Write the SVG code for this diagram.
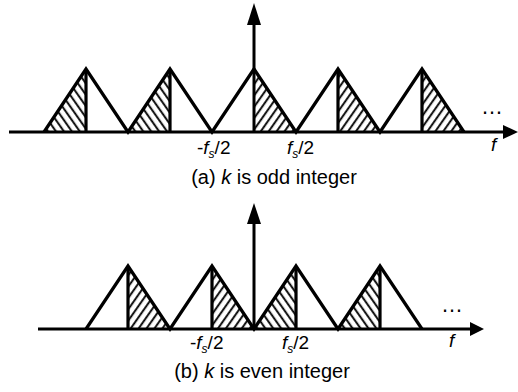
<svg xmlns="http://www.w3.org/2000/svg" width="518" height="392" viewBox="0 0 518 392">
<style>
.ax{stroke:#000;stroke-width:3;fill:none}
.tri{stroke:#000;stroke-width:3.2;fill:none;stroke-linejoin:miter}
.hd{fill:#000}
.t{font-family:"Liberation Sans",Arial,sans-serif;font-size:19px;fill:#000}
.cap{font-size:20px}
.dots{font-size:22px}
.i{font-style:italic}
.sub{font-size:12px;font-style:italic}
</style>
<defs>
<pattern id="hf" patternUnits="userSpaceOnUse" width="6.5" height="10" patternTransform="rotate(35)">
<line x1="3" y1="-2" x2="3" y2="12" stroke="#000" stroke-width="1.9"/>
</pattern>
<pattern id="hb" patternUnits="userSpaceOnUse" width="6.5" height="10" patternTransform="rotate(-35)">
<line x1="3" y1="-2" x2="3" y2="12" stroke="#000" stroke-width="1.9"/>
</pattern>
</defs>
<rect width="518" height="392" fill="#fff"/>

<g id="panelA">
<g id="hatchA">
<polygon points="44,132 86,69 86,132" fill="url(#hb)"/>
<polygon points="128,132 170,69 170,132" fill="url(#hb)"/>
<polygon points="254,69 296,132 254,132" fill="url(#hf)"/>
<polygon points="338,69 380,132 338,132" fill="url(#hf)"/>
<polygon points="422,69 464,132 422,132" fill="url(#hf)"/>
</g>
<g id="trianglesA" class="tri">
<polyline points="44,132 86,69 128,132 170,69 212,132 254,69 296,132 338,69 380,132 422,69 464,132"/>
<line x1="86" y1="69" x2="86" y2="132"/>
<line x1="170" y1="69" x2="170" y2="132"/>
<line x1="338" y1="69" x2="338" y2="132"/>
<line x1="422" y1="69" x2="422" y2="132"/>
</g>
<g id="axesA">
<line class="ax" x1="9" y1="132" x2="505" y2="132"/>
<polygon class="hd" points="503,125 518,132 503,139"/>
<line class="ax" x1="254" y1="132" x2="254" y2="22"/>
<polygon class="hd" points="247,25 254,3 261,25"/>
</g>
<text class="t" x="197" y="154">-<tspan class="i">f</tspan><tspan class="sub" dy="4">s</tspan><tspan dy="-4">/2</tspan></text>
<text class="t" x="287" y="154"><tspan class="i">f</tspan><tspan class="sub" dy="4">s</tspan><tspan dy="-4">/2</tspan></text>
<text class="t i" x="491" y="151">f</text>
<text class="t dots" x="481" y="114">…</text>
<text class="t cap" x="274" y="184" text-anchor="middle">(a) <tspan class="i">k</tspan> is odd integer</text>
</g>

<g id="panelB">
<g id="hatchB">
<polygon points="128,266 170,329 128,329" fill="url(#hf)"/>
<polygon points="212,266 254,329 212,329" fill="url(#hf)"/>
<polygon points="254,329 296,266 296,329" fill="url(#hb)"/>
<polygon points="338,329 380,266 380,329" fill="url(#hb)"/>
</g>
<g id="trianglesB" class="tri">
<polyline points="86,329 128,266 170,329 212,266 254,329 296,266 338,329 380,266 422,329"/>
<line x1="128" y1="266" x2="128" y2="329"/>
<line x1="212" y1="266" x2="212" y2="329"/>
<line x1="296" y1="266" x2="296" y2="329"/>
<line x1="380" y1="266" x2="380" y2="329"/>
</g>
<g id="axesB">
<line class="ax" x1="38" y1="329" x2="472" y2="329"/>
<polygon class="hd" points="470,322 484,329 470,336"/>
<line class="ax" x1="254" y1="329" x2="254" y2="221"/>
<polygon class="hd" points="247,224 254,203 261,224"/>
</g>
<text class="t" x="190" y="349">-<tspan class="i">f</tspan><tspan class="sub" dy="4">s</tspan><tspan dy="-4">/2</tspan></text>
<text class="t" x="282" y="349"><tspan class="i">f</tspan><tspan class="sub" dy="4">s</tspan><tspan dy="-4">/2</tspan></text>
<text class="t i" x="449" y="347">f</text>
<text class="t dots" x="441" y="312">…</text>
<text class="t cap" x="262" y="378" text-anchor="middle">(b) <tspan class="i">k</tspan> is even integer</text>
</g>
</svg>
